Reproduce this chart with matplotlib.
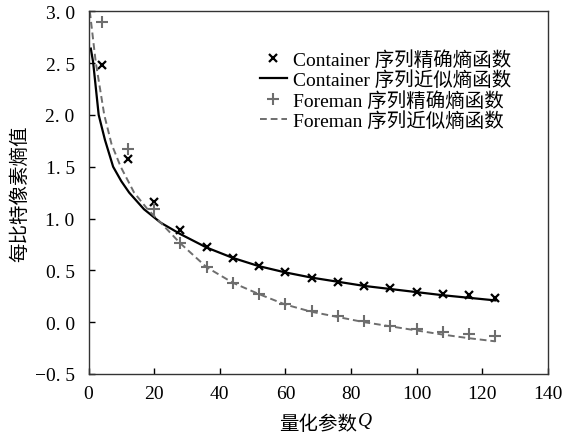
import numpy as np
import matplotlib
matplotlib.use('Agg')
import matplotlib.pyplot as plt

# 字体
plt.rcParams['font.family'] = ['Liberation Serif', 'Noto Sans CJK SC']
plt.rcParams['axes.unicode_minus'] = True

# 精确熵（标记点）
q_points = [4, 12, 20, 28, 36, 44, 52, 60, 68, 76, 84, 92, 100, 108, 116, 124]
container_exact = [2.48, 1.57, 1.16, 0.89, 0.73, 0.62, 0.54, 0.48, 0.43, 0.39,
                   0.35, 0.33, 0.295, 0.27, 0.26, 0.235]
foreman_exact = [2.90, 1.67, 1.09, 0.76, 0.53, 0.38, 0.27, 0.18, 0.105, 0.055,
                 0.01, -0.035, -0.065, -0.09, -0.11, -0.135]

# 近似熵（曲线，从图中读取）
container_q = [0.7, 1.4, 3.1, 5, 7.5, 10, 12.4, 16.9, 22, 28, 36, 44, 52, 60,
               68, 76, 84, 92, 100, 108, 116, 124]
container_approx = [2.64, 2.51, 2.0, 1.76, 1.5, 1.36, 1.25, 1.09, 0.96, 0.85,
                    0.72, 0.62, 0.54, 0.48, 0.43, 0.39, 0.35, 0.32, 0.29, 0.26,
                    0.235, 0.21]
foreman_q = [0.4, 2.2, 4.8, 7, 9.8, 13.9, 18, 22, 28, 36, 44, 52, 60, 68,
             76, 84, 92, 100, 108, 116, 124]
foreman_approx = [3.0, 2.51, 2.0, 1.72, 1.5, 1.25, 1.09, 0.96, 0.76,
                  0.53, 0.38, 0.27, 0.17, 0.10, 0.05, 0.0, -0.04, -0.08, -0.12,
                  -0.155, -0.185]

labels = ['Container 序列精确熵函数', 'Container 序列近似熵函数',
          'Foreman 序列精确熵函数', 'Foreman 序列近似熵函数']

gray = '#6e6e6e'

fig = plt.figure(figsize=(5.62, 4.39), dpi=100)
ax = fig.add_axes([0.1575, 0.1458, 0.8175, 0.8262])

ax.plot(q_points, container_exact, linestyle='none', marker='x', color='black',
        markersize=5.5, markeredgewidth=1.6, label=labels[0])
ax.plot(container_q, container_approx, color='black', linewidth=1.6, label=labels[1])
ax.plot(q_points, foreman_exact, linestyle='none', marker='+', color=gray,
        markersize=9, markeredgewidth=1.5, label=labels[2])
ax.plot(foreman_q, foreman_approx, color=gray, linewidth=1.4,
        linestyle=(0, (3.5, 2)), label=labels[3])

ax.set_xlim(0, 140)
ax.set_ylim(-0.5, 3.0)
yt = np.arange(-0.5, 3.01, 0.5)
ax.set_xticks(np.arange(0, 141, 20))
ax.set_yticks(yt)
ax.set_yticklabels([f'{v:.1f}'.replace('-', '\u2212').replace('.', '. ') for v in yt])
ax.tick_params(direction='in', length=4, width=1, labelsize=14)
ax.tick_params(axis='x', pad=8)
ax.tick_params(axis='y', pad=10)
for s in ax.spines.values():
    s.set_linewidth(1.0)
    s.set_color('#333333')

ax.set_ylabel('每比特像素熵值', fontsize=14, labelpad=4)
ax.set_xlabel('量化参数', fontsize=14, labelpad=9)

ax.legend(loc='upper left', bbox_to_anchor=(0.373, 0.893), frameon=False,
          fontsize=14, handlelength=1.4, handletextpad=0.3, labelspacing=0.09,
          borderpad=0, borderaxespad=0)

# 斜体 Q 紧跟在横轴标题后
fig.canvas.draw()
bb = ax.xaxis.label.get_window_extent()
W, H = fig.get_size_inches() * fig.dpi
fig.text(bb.x1 / W + 0.002, (bb.y0 + 4) / H, 'Q', fontsize=14, style='italic',
         family='Liberation Serif', ha='left', va='bottom')

fig.savefig('out.png', dpi=100)
